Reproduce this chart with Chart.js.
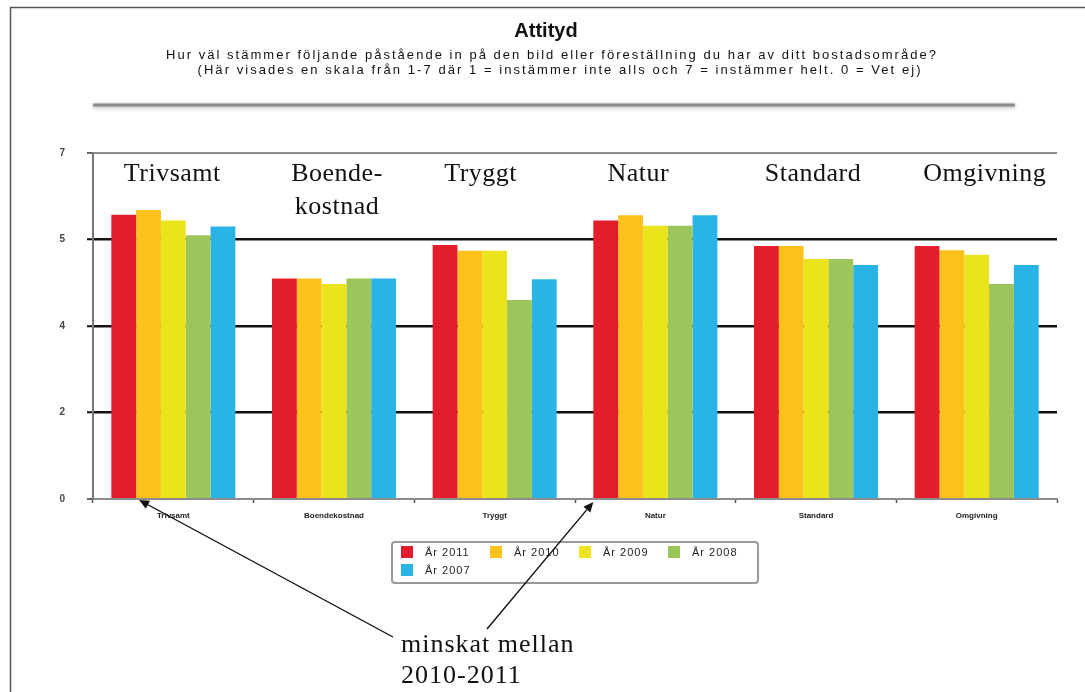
<!DOCTYPE html>
<html>
<head>
<meta charset="utf-8">
<script src="https://cdn.jsdelivr.net/npm/chart.js@4"></script>
<style>
  html, body { margin: 0; padding: 0; background: #fff; }
  #wrap { width: 1085px; height: 692px; position: relative; }
</style>
</head>
<body>
<div id="wrap"><canvas id="c" width="1085" height="692"></canvas></div>
<script>
// Survey categories and the large headings written above each group
const categories = ['Trivsamt', 'Boendekostnad', 'Tryggt', 'Natur', 'Standard', 'Omgivning'];
const headings = [['Trivsamt'], ['Boende-', 'kostnad'], ['Tryggt'], ['Natur'], ['Standard'], ['Omgivning']];

// Series, one per survey year
const seriesNames = ['År 2011', 'År 2010', 'År 2009', 'År 2008', 'År 2007'];
const ar2011 = [6.57, 5.10, 5.87, 6.44, 5.85, 5.85];
const ar2010 = [6.68, 5.10, 5.74, 6.56, 5.85, 5.75];
const ar2009 = [6.44, 4.97, 5.74, 6.32, 5.55, 5.65];
const ar2008 = [6.10, 5.10, 4.60, 6.32, 5.55, 4.97];
const ar2007 = [6.30, 5.10, 5.08, 6.56, 5.41, 5.41];
const seriesColors = ['#E31E2A', '#FCC21B', '#EBE41C', '#9CC55B', '#2AB4E6'];

// Value axis tick labels, one per gridline
const yTickLabels = ['0', '2', '4', '5', '7'];

// Texts
const titleText = 'Attityd';
const subtitleLines = [
  'Hur väl stämmer följande påstående in på den bild eller föreställning du har av ditt bostadsområde?',
  '(Här visades en skala från 1-7 där 1 = instämmer inte alls och 7 = instämmer helt. 0 = Vet ej)'
];
const noteLines = ['minskat mellan', '2010-2011'];

const seriesValues = [ar2011, ar2010, ar2009, ar2008, ar2007];

// Draws centred text spread out to a given overall width
function drawSpaced(ctx, text, x, y, targetWidth) {
  ctx.letterSpacing = '0px';
  const w = ctx.measureText(text).width;
  const sp = Math.max(0, (targetWidth - w) / text.length);
  ctx.letterSpacing = sp + 'px';
  ctx.fillText(text, x + sp / 2, y);
  ctx.letterSpacing = '0px';
}

function arrow(ctx, x1, y1, x2, y2) {
  const ang = Math.atan2(y2 - y1, x2 - x1);
  const len = 10, half = 4.5;
  const bx = x2 - len * Math.cos(ang), by = y2 - len * Math.sin(ang);
  ctx.beginPath();
  ctx.moveTo(x1, y1);
  ctx.lineTo(bx, by);
  ctx.stroke();
  ctx.beginPath();
  ctx.moveTo(x2, y2);
  ctx.lineTo(bx - half * Math.sin(ang), by + half * Math.cos(ang));
  ctx.lineTo(bx + half * Math.sin(ang), by - half * Math.cos(ang));
  ctx.closePath();
  ctx.fill();
}

const decor = {
  id: 'decor',
  afterDraw(chart) {
    const ctx = chart.ctx;
    const xs = chart.scales.x;
    ctx.save();

    // page frame
    ctx.strokeStyle = '#555';
    ctx.lineWidth = 1.5;
    ctx.beginPath();
    ctx.moveTo(10.5, 692);
    ctx.lineTo(10.5, 7.5);
    ctx.lineTo(1085, 7.5);
    ctx.stroke();

    // title block
    ctx.fillStyle = '#111';
    ctx.textAlign = 'center';
    ctx.textBaseline = 'alphabetic';
    ctx.font = 'bold 20px "Liberation Sans", Arial, sans-serif';
    ctx.fillText(titleText, 546, 37);
    ctx.font = '13px "Liberation Sans", Arial, sans-serif';
    ctx.fillStyle = '#111';
    drawSpaced(ctx, subtitleLines[0], 551, 59, 772);
    drawSpaced(ctx, subtitleLines[1], 559, 74, 725);

    // rule under the title
    ctx.save();
    ctx.shadowColor = 'rgba(0,0,0,0.35)';
    ctx.shadowBlur = 4;
    ctx.shadowOffsetY = 1;
    ctx.strokeStyle = '#8a8a8a';
    ctx.lineWidth = 3;
    ctx.beginPath();
    ctx.moveTo(93, 105);
    ctx.lineTo(1015, 105);
    ctx.stroke();
    ctx.restore();

    // large group headings
    const offs = chart.options.plugins.decor.headingOffsets;
    ctx.fillStyle = '#111';
    ctx.font = '26px "Liberation Serif", "Times New Roman", serif';
    ctx.letterSpacing = '0.5px';
    headings.forEach((lines, i) => {
      const cx = xs.getPixelForValue(i) + offs[i];
      lines.forEach((t, j) => ctx.fillText(t, cx, 181 + j * 33));
    });
    ctx.letterSpacing = '0px';

    // legend box
    ctx.strokeStyle = '#9a9a9a';
    ctx.lineWidth = 2;
    ctx.beginPath();
    ctx.roundRect(392, 542, 366, 41, 3);
    ctx.stroke();
    ctx.textAlign = 'left';
    ctx.textBaseline = 'middle';
    ctx.font = '11px "Liberation Sans", Arial, sans-serif';
    ctx.letterSpacing = '1px';
    chart.data.datasets.forEach((ds, i) => {
      const col = i % 4, row = Math.floor(i / 4);
      const x = 401 + col * 89, y = 552 + row * 18;
      ctx.fillStyle = ds.backgroundColor;
      ctx.fillRect(x, y - 6, 12, 12);
      ctx.fillStyle = '#222';
      ctx.fillText(ds.label, x + 24, y + 1);
    });
    ctx.letterSpacing = '0px';

    // note with arrows to the bars
    const red = chart.getDatasetMeta(0).data;
    const b0 = red[0], b3 = red[3];
    ctx.strokeStyle = '#111';
    ctx.fillStyle = '#111';
    ctx.lineWidth = 1.4;
    arrow(ctx, 393, 637, b0.x + b0.width / 2 + 3, b0.base + 2);
    arrow(ctx, 487, 629, b3.x - b3.width / 2, b3.base + 4);

    ctx.fillStyle = '#111';
    ctx.textBaseline = 'alphabetic';
    ctx.font = '26px "Liberation Serif", "Times New Roman", serif';
    ctx.letterSpacing = '1px';
    ctx.fillText(noteLines[0], 401, 652);
    ctx.fillText(noteLines[1], 401, 683);
    ctx.letterSpacing = '0px';

    ctx.restore();
  }
};

new Chart(document.getElementById('c'), {
  type: 'bar',
  data: {
    labels: categories,
    datasets: seriesNames.map((name, i) => ({
      label: name,
      data: seriesValues[i],
      backgroundColor: seriesColors[i],
      borderWidth: 0,
      categoryPercentage: 0.772,
      barPercentage: 1.0
    }))
  },
  options: {
    responsive: false,
    animation: false,
    devicePixelRatio: 1,
    layout: { padding: { top: 153, right: 28, left: 0, bottom: 0 } },
    plugins: {
      legend: { display: false },
      tooltip: { enabled: false },
      title: { display: false },
      decor: { headingOffsets: [-1, 3, -14, -17, -3, 8] }
    },
    scales: {
      x: {
        grid: {
          offset: true,
          drawOnChartArea: false,
          drawTicks: true,
          tickLength: 4,
          tickColor: '#555',
          tickWidth: 1.5
        },
        border: { color: '#8c8c8c', width: 2 },
        ticks: {
          font: { size: 8, weight: 'bold', family: '"Liberation Sans", Arial, sans-serif' },
          color: '#222',
          padding: 8,
          maxRotation: 0,
          autoSkip: false
        },
        afterFit: s => { s.height = 193; }
      },
      y: {
        min: 0,
        max: 8,
        ticks: {
          stepSize: 2,
          callback: (v, i) => yTickLabels[i],
          font: { size: 10, weight: 'bold', family: '"Liberation Sans", Arial, sans-serif' },
          color: '#444',
          padding: 22
        },
        grid: {
          color: c => (c.tick && (c.tick.value === 0 || c.tick.value === 8)) ? '#8c8c8c' : '#111',
          lineWidth: c => (c.tick && (c.tick.value === 0 || c.tick.value === 8)) ? 2 : 2.5,
          tickColor: c => (c.tick && (c.tick.value === 0 || c.tick.value === 8)) ? '#666' : '#111',
          tickLength: 6,
          tickWidth: 2
        },
        border: { color: '#777', width: 2 },
        afterFit: s => { s.width = 93; }
      }
    }
  },
  plugins: [decor]
});
</script>
</body>
</html>
